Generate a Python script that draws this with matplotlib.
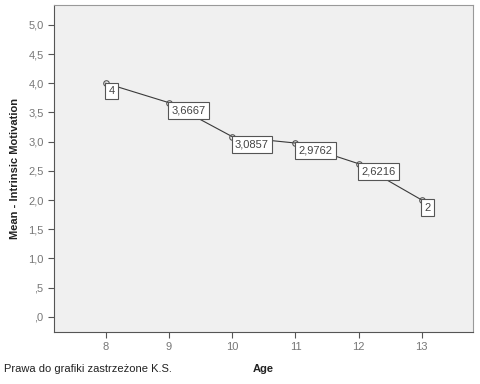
import matplotlib
matplotlib.use("Agg")
import matplotlib.pyplot as plt

# Mean intrinsic motivation by age
ages = [8, 9, 10, 11, 12, 13]
means = [4.0, 3.6667, 3.0857, 2.9762, 2.6216, 2.0]
value_labels = ["4", "3,6667", "3,0857", "2,9762", "2,6216", "2"]
y_ticks = [0.0, 0.5, 1.0, 1.5, 2.0, 2.5, 3.0, 3.5, 4.0, 4.5, 5.0]
y_tick_labels = [",0", ",5", "1,0", "1,5", "2,0", "2,5", "3,0", "3,5", "4,0", "4,5", "5,0"]

plt.rcParams['font.family'] = ['Liberation Sans', 'DejaVu Sans']

fig = plt.figure(figsize=(4.8, 3.84), dpi=100)
ax = fig.add_axes([54 / 480, 1 - 332 / 384, 419 / 480, 327 / 384])
ax.set_facecolor("#f0f0f0")

ax.plot(ages, means, color="#3a3a3a", lw=0.8, marker="o", ms=4,
        mfc="none", mec="#555555", mew=0.8)

for x, y, lab in zip(ages, means, value_labels):
    ax.annotate(lab, (x, y), xytext=(2, -2), textcoords="offset points",
                ha="left", va="top", fontsize=8, color="#444444",
                bbox=dict(boxstyle="square,pad=0.3", fc="white", ec="#555555", lw=0.8))

ax.set_xlim(7.18, 13.81)
ax.set_ylim(-0.26, 5.34)
ax.set_xticks(ages)
ax.set_xticklabels([str(a) for a in ages])
ax.set_yticks(y_ticks)
ax.set_yticklabels(y_tick_labels)
ax.tick_params(axis="both", labelsize=8, labelcolor="#777777", color="#555555",
               length=4, width=0.8)

for side in ["left", "bottom"]:
    ax.spines[side].set_color("#555555")
for side in ["top", "right"]:
    ax.spines[side].set_color("#999999")

fig.text(15 / 480, 1 - 168 / 384, "Mean - Intrinsic Motivation", rotation=90,
         ha="center", va="center", fontsize=8, fontweight="bold", color="#222222")
fig.text(263 / 480, 1 - 369 / 384, "Age", ha="center", va="center",
         fontsize=8, fontweight="bold", color="#222222")
fig.text(4 / 480, 1 - 369 / 384, "Prawa do grafiki zastrzeżone K.S.", ha="left",
         va="center", fontsize=8, color="#222222")

fig.savefig("out.png", dpi=100)
